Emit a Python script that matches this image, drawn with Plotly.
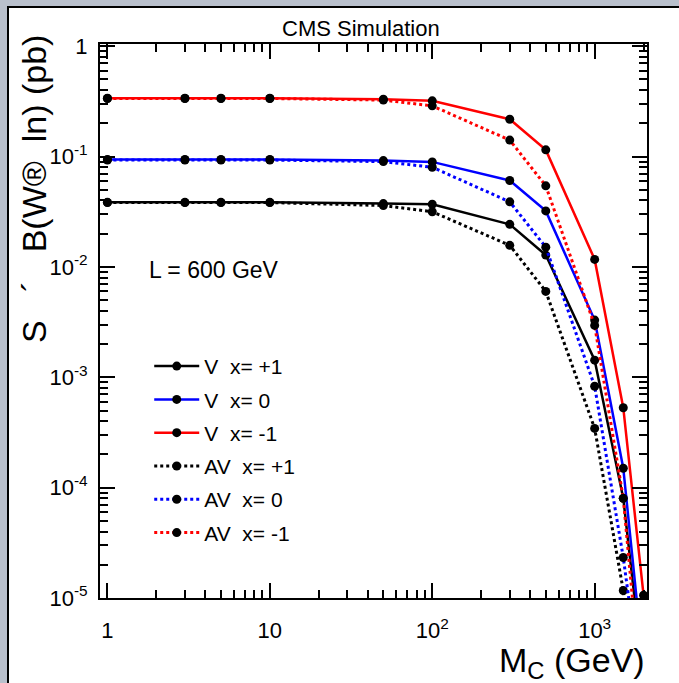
import numpy as np
import plotly.graph_objects as go

# Dark-matter mass points (GeV)
mass = [1, 3, 5, 10, 50, 100, 300, 500, 1000, 1500, 2000]

# sigma x B(W -> l nu) in pb for each coupling scenario
v_xi_p1 = [0.0385, 0.0385, 0.0385, 0.0385, 0.0375, 0.0370, 0.0243, 0.0128, 1.43e-3, 8.0e-5, 1.9e-6]
v_xi_0 = [0.094, 0.094, 0.094, 0.094, 0.092, 0.0895, 0.0607, 0.0322, 3.3e-3, 1.5e-4, 2.4e-6]
v_xi_m1 = [0.338, 0.338, 0.338, 0.338, 0.331, 0.320, 0.218, 0.115, 0.0117, 5.3e-4, 1.06e-5]
av_xi_p1 = [0.0383, 0.0383, 0.0383, 0.0383, 0.036, 0.0316, 0.0157, 6.0e-3, 3.44e-4, 1.17e-5, 1.0e-7]
av_xi_0 = [0.093, 0.093, 0.093, 0.093, 0.090, 0.080, 0.0389, 0.0151, 8.3e-4, 2.33e-5, 1.0e-6]
av_xi_m1 = [0.336, 0.336, 0.336, 0.336, 0.325, 0.288, 0.141, 0.0543, 2.95e-3, 8.0e-5, 8.0e-7]

NB = "\u00a0"
series = [
    (f"V{NB}{NB}x={NB}+1", v_xi_p1, "black", "solid"),
    (f"V{NB}{NB}x={NB}0", v_xi_0, "#0000ff", "solid"),
    (f"V{NB}{NB}x={NB}-1", v_xi_m1, "#ff0000", "solid"),
    (f"AV{NB}{NB}x={NB}+1", av_xi_p1, "black", "dot"),
    (f"AV{NB}{NB}x={NB}0", av_xi_0, "#0000ff", "dot"),
    (f"AV{NB}{NB}x={NB}-1", av_xi_m1, "#ff0000", "dot"),
]

x_tickvals = [1, 10, 100, 1000]
x_ticktext = ["1", "10", "10<sup>2</sup>", "10<sup>3</sup>"]
y_tickvals = [1, 0.1, 0.01, 1e-3, 1e-4, 1e-5]
y_ticktext = ["1", "10<sup>-1</sup>", "10<sup>-2</sup>", "10<sup>-3</sup>",
              "10<sup>-4</sup>", "10<sup>-5</sup>"]

# log sub-ticks 2..9 within each decade
x_minor = [m * 10 ** k for k in range(0, 4) for m in range(2, 10)]
y_minor = [m * 10.0 ** k for k in range(-5, 0) for m in range(2, 10)]

FONT = "Liberation Sans, Arial, Helvetica, sans-serif"

fig = go.Figure()
for i, (name, vals, color, dash) in enumerate(series):
    fig.add_trace(go.Scatter(
        x=mass, y=vals, name=name, mode="lines+markers",
        line=dict(color=color, width=2.5 if dash == "solid" else 3, dash=dash),
        marker=dict(color="black", size=9),
        legendgroup=f"g{i}",
    ))

W, H = 679, 683
L, R, T, B = 100, 32, 44, 85

axis_common = dict(
    type="log", showgrid=False, zeroline=False,
    showline=True, linecolor="black", linewidth=2, mirror="allticks",
    ticks="inside", ticklen=15, tickwidth=1.5, tickcolor="black",
    tickfont=dict(family=FONT, size=22, color="black"),
)
minor_common = dict(ticks="inside", ticklen=8, tickwidth=1.5, tickcolor="black",
                    tickmode="array", showgrid=False)

fig.update_xaxes(range=[np.log10(0.9), np.log10(2100)],
                 tickvals=x_tickvals, ticktext=x_ticktext,
                 minor=dict(tickvals=x_minor, **minor_common),
                 ticklabelstandoff=12, **axis_common)
fig.update_yaxes(range=[-5, 0.02],
                 tickvals=y_tickvals, ticktext=y_ticktext,
                 minor=dict(tickvals=y_minor, **minor_common),
                 ticklabelstandoff=6, **axis_common)

fig.update_layout(
    width=W, height=H,
    margin=dict(l=L, r=R, t=T, b=B),
    paper_bgcolor="#b9c0cc",
    plot_bgcolor="white",
    font=dict(family=FONT, color="black"),
    showlegend=True,
    legend=dict(
        x=0.09, y=0.455, xanchor="left", yanchor="top",
        bgcolor="rgba(0,0,0,0)", font=dict(family=FONT, size=21),
        tracegroupgap=3, itemwidth=45,
    ),
    shapes=[
        dict(type="rect", xref="paper", yref="paper", layer="below",
             x0=-(L - 8) / (W - L - R), x1=1.3,
             y0=-0.4, y1=1 + (T - 7) / (H - T - B),
             fillcolor="white", line=dict(color="black", width=2)),
    ],
    annotations=[
        dict(text="CMS Simulation", xref="paper", yref="paper",
             x=0.478, y=1 + (44 - 28) / 554, yanchor="middle", showarrow=False,
             font=dict(family=FONT, size=22)),
        dict(text="L = 600 GeV", xref="paper", yref="paper",
             x=(147 - 100) / 547, y=(598 - 270) / 554, xanchor="left",
             yanchor="middle", showarrow=False,
             font=dict(family=FONT, size=23)),
        dict(text="M<sub>C</sub> (GeV)", xref="paper", yref="paper",
             x=1.0, y=-(663 - 598) / 554, xanchor="right", yanchor="middle",
             showarrow=False, font=dict(family=FONT, size=34)),
        dict(text=f"S{NB}{NB}{NB}´{NB}{NB}{NB}B(W®{NB}{NB}ln){NB}(pb)",
             xref="paper", yref="paper",
             x=-(100 - 34) / 547, y=1 + (44 - 33) / 554, xanchor="center",
             yanchor="top", textangle=-90,
             showarrow=False, font=dict(family=FONT, size=34)),
    ],
)

fig.write_html("out.html")
